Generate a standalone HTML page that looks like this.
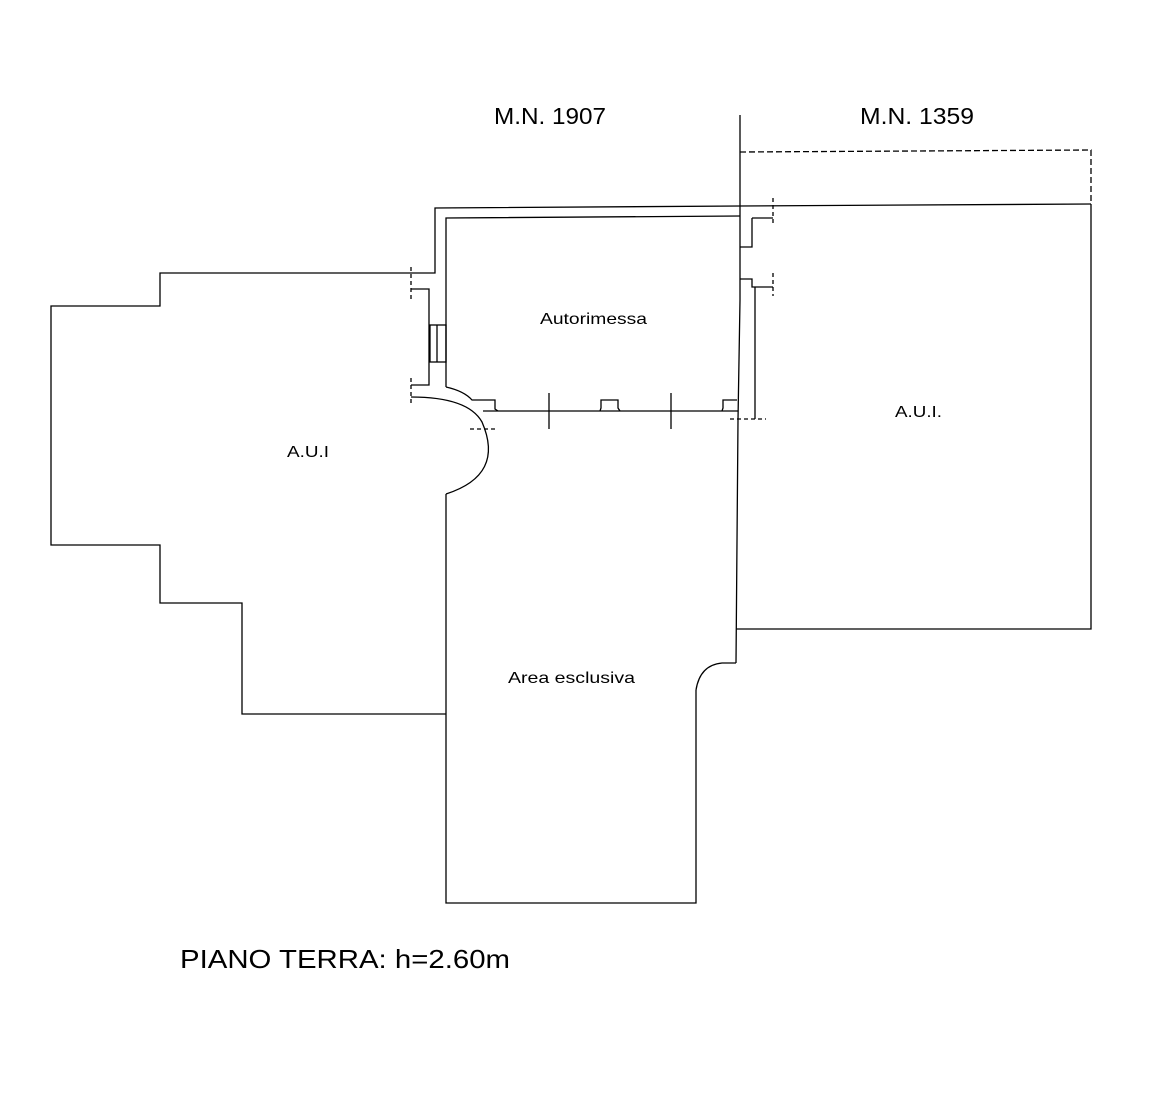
<!DOCTYPE html>
<html><head><style>body{margin:0;background:#fff}svg{display:block}</style></head>
<body>
<svg width="1164" height="1100" viewBox="0 0 1164 1100" xmlns="http://www.w3.org/2000/svg">
<g fill="none" stroke="#000" stroke-width="1.3">
<polyline points="432,273 160,273 160,306 51,306 51,545 160,545 160,603 242,603 242,714 446,714"/>
<polyline points="432,273 435,273 435,208 740,206"/>
<polyline points="446,387 446,218 740,216"/>
<line x1="740" y1="206" x2="1091" y2="204"/>
<polyline points="411,289 429,289 429,385 411,385"/>
<rect x="430" y="325" width="16" height="37"/>
<line x1="437" y1="325" x2="437" y2="362"/>
<line x1="411" y1="267" x2="411" y2="300" stroke-dasharray="4,3"/>
<line x1="411" y1="378" x2="411" y2="404" stroke-dasharray="4,3"/>
<path d="M446,387 Q464,391 472,400 L495,400 L495,409 L498,411"/>
<path d="M411,397 Q468,397 482,422 Q505,475 446,494"/>
<line x1="470" y1="429" x2="498" y2="429" stroke-dasharray="4,3"/>
<line x1="483" y1="411" x2="738" y2="411"/>
<line x1="549" y1="393" x2="549" y2="429"/>
<line x1="671" y1="393" x2="671" y2="429"/>
<polyline points="600,411 601,408 601,400 618,400 618,408 620,411"/>
<polyline points="722,411 723,408 723,400 737,400"/>
<polyline points="740,115 740,300 738,420 736,663"/>
<polyline points="752,218 773,218"/>
<polyline points="740,247 752,247 752,218"/>
<line x1="773" y1="198" x2="773" y2="226" stroke-dasharray="4,3"/>
<polyline points="740,279 752,279 752,287 773,287"/>
<line x1="773" y1="273" x2="773" y2="296" stroke-dasharray="4,3"/>
<line x1="755" y1="287" x2="755" y2="419"/>
<line x1="730" y1="419" x2="766" y2="419" stroke-dasharray="4,3"/>
<polyline points="740,152 1091,150 1091,204" stroke-dasharray="6,3"/>
<polyline points="1091,204 1091,629 736,629"/>
<polyline points="446,494 446,903 696,903 696,690"/>
<path d="M696,690 Q700,665 722,663 L736,663"/>
</g>
<g font-family="Liberation Sans, sans-serif" fill="#000">
<text x="494" y="124" font-size="23" textLength="112" lengthAdjust="spacingAndGlyphs">M.N. 1907</text>
<text x="860" y="124" font-size="23" textLength="114" lengthAdjust="spacingAndGlyphs">M.N. 1359</text>
<text x="540" y="324" font-size="16" textLength="107" lengthAdjust="spacingAndGlyphs">Autorimessa</text>
<text x="287" y="457" font-size="16" textLength="42" lengthAdjust="spacingAndGlyphs">A.U.I</text>
<text x="895" y="417" font-size="16" textLength="47" lengthAdjust="spacingAndGlyphs">A.U.I.</text>
<text x="508" y="683" font-size="16" textLength="127" lengthAdjust="spacingAndGlyphs">Area esclusiva</text>
<text x="180" y="968" font-size="26" textLength="330" lengthAdjust="spacingAndGlyphs">PIANO TERRA: h=2.60m</text>
</g>
</svg>
</body></html>
